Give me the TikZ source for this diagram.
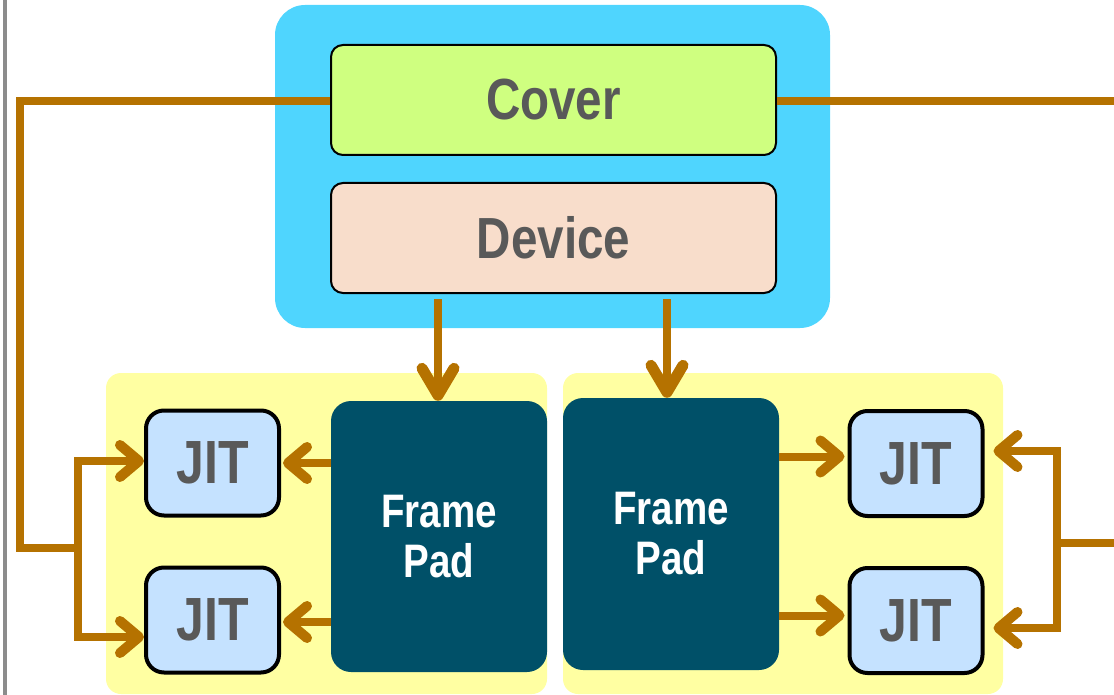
\documentclass[tikz,border=0pt]{standalone}
\usepackage{fontspec}
\setmainfont{Liberation Sans}[FakeStretch=0.82]
\usetikzlibrary{arrows.meta,calc}
\definecolor{wire}{RGB}{181,114,0}
\definecolor{skyb}{RGB}{79,213,254}
\definecolor{lime}{RGB}{207,255,128}
\definecolor{peach}{RGB}{248,221,203}
\definecolor{paley}{RGB}{255,255,162}
\definecolor{teal}{RGB}{0,80,104}
\definecolor{jitb}{RGB}{197,226,255}
\definecolor{txtg}{RGB}{89,89,89}
\definecolor{sideg}{RGB}{140,140,140}
\tikzset{
  wirel/.style={draw=wire,line width=8pt},
  arr/.style={wirel,-{Straight Barb[length=19pt,width=32pt,line width=10pt,round]}},
  darr/.style={wirel,-{Straight Barb[length=27pt,width=32pt,line width=11pt,round]}},
  topbox/.style={draw=black,line width=2pt,rounded corners=12pt,minimum width=445pt,minimum height=110pt,inner sep=0pt,text=txtg,font=\fontsize{58}{60}\selectfont\bfseries},
  padbox/.style={fill=teal,rounded corners=20pt,minimum width=216pt,inner sep=0pt,text=white,align=center,font=\fontsize{47}{50}\selectfont\bfseries},
  jitbox/.style={draw=black,fill=jitb,line width=4pt,rounded corners=18pt,minimum width=133pt,minimum height=105pt,inner sep=0pt,text=txtg,font=\fontsize{61}{62}\selectfont\bfseries},
  panel/.style={fill=paley,rounded corners=15pt}
}
\begin{document}
\begin{tikzpicture}[x=1pt,y=-1pt]
\useasboundingbox (0,0) rectangle (1114,695);
% side gray line
\draw[sideg,line width=4pt] (4.5,0) -- (4.5,695);
% backgrounds
\fill[skyb,rounded corners=30pt] (275,5) rectangle (830,328);
\path[panel] (106,373) rectangle (547,694);
\path[panel] (563,373) rectangle (1003,694);
% main boxes
\node[topbox,fill=lime] (cover) at (553.5,100) {Cover};
\node[topbox,fill=peach] (device) at (553.5,238) {Device};
\node[padbox,minimum height=271pt] (fpl) at (439,536.5) {Frame\\Pad};
\node[padbox,minimum height=272pt] (fpr) at (671,534) {Frame\\Pad};
\node[jitbox] (jl1) at (212.5,463) {JIT};
\node[jitbox] (jl2) at (212.5,620) {JIT};
\node[jitbox] (jr1) at (916,463.5) {JIT};
\node[jitbox] (jr2) at (916,620.5) {JIT};
% free ends / bends
\coordinate (lc) at (20,101);
\coordinate (lb) at (20,548);
\coordinate (lj) at (78,548);
\coordinate (lt) at (78,461);
\coordinate (lu) at (78,637);
\coordinate (re) at (1114,101);
\coordinate (rin) at (1114,543);
\coordinate (rj) at (1057,543);
\coordinate (rt) at (1057,451);
\coordinate (ru) at (1057,628);
% device to frame pads
\draw[darr] ($(fpl.north |- device.south)+(-1,5)$) -- ($(fpl.north)+(-1,0)$);
\draw[darr] ($(fpr.north |- device.south)+(-4,5)$) -- ($(fpr.north)+(-4,0)$);
% frame pads to JITs
\draw[arr] (fpl.west |- jl1) -- ($(jl1.east)+(2,0)$);
\draw[arr] ($(fpl.west |- jl2)+(0,2)$) -- ($(jl2.east)+(2,2)$);
\draw[arr] ($(fpr.east |- jr1)+(0,-7)$) -- ($(jr1.west)+(-3,-7)$);
\draw[arr] ($(fpr.east |- jr2)+(0,-5)$) -- ($(jr2.west)+(-3,-5)$);
% cover to left bus
\draw[wirel,line join=miter] (cover.west |- lc) -- (lc) -- (lb) -- (lj);
\draw[wirel] (lt) -- (lu);
\draw[arr] ($(lt)+(-4,0)$) -- (jl1.west |- lt);
\draw[arr] ($(lu)+(-4,0)$) -- (jl2.west |- lu);
% cover to right edge
\draw[wirel] (cover.east |- re) -- (re);
% right bus
\draw[wirel] (rin) -- (rj);
\draw[wirel] (rt) -- (ru);
\draw[arr] ($(rt)+(4,0)$) -- ($(jr1.east |- rt)+(9,0)$);
\draw[arr] ($(ru)+(4,0)$) -- ($(jr2.east |- ru)+(9,0)$);
\end{tikzpicture}
\end{document}
